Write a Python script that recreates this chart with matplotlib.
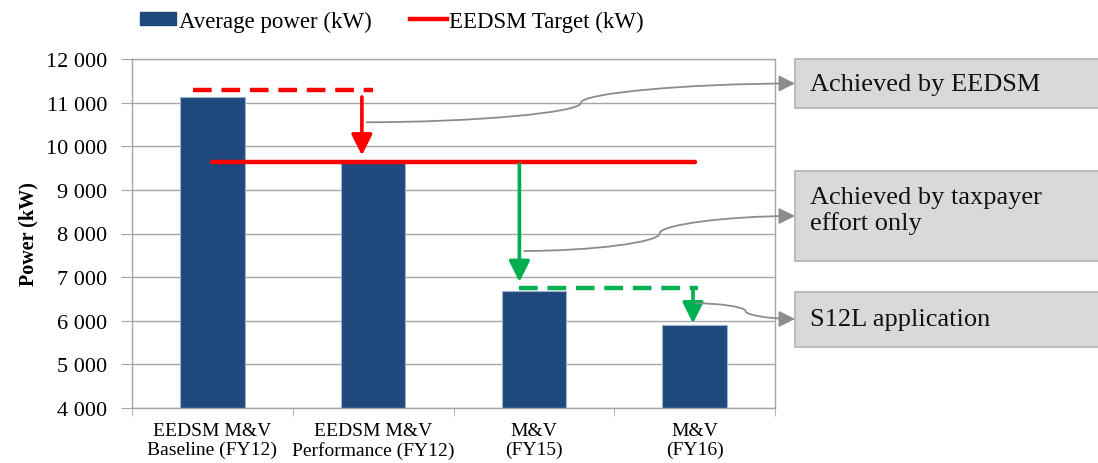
import numpy as np
import matplotlib.pyplot as plt
from matplotlib.patches import Patch, Rectangle, FancyArrowPatch
from matplotlib.lines import Line2D
from matplotlib.path import Path
from matplotlib.ticker import FuncFormatter, MultipleLocator, FixedLocator

plt.rcParams['font.family'] = ['Liberation Serif', 'DejaVu Serif']

# Datos del gráfico
categorias = ["EEDSM M&V\nBaseline (FY12)", "EEDSM M&V\nPerformance (FY12)",
              "M&V\n(FY15)", "M&V\n(FY16)"]
potencia_media = [11130, 9610, 6690, 5900]   # kW
objetivo_eedsm = 9650                          # kW
objetivo_base = 11300                          # línea roja discontinua
nivel_fy15 = 6750                              # línea verde discontinua
etiquetas_cuadros = ["Achieved by EEDSM",
                     "Achieved by taxpayer\neffort only",
                     "S12L application"]

AZUL = '#1f497d'
ROJO = '#ff0000'
VERDE = '#00b050'
GRIS = '#8c8c8c'

W, H = 1098, 464
fig = plt.figure(figsize=(W / 100, H / 100), dpi=100)
ax = fig.add_axes([132 / W, 1 - 409 / H, (775 - 132) / W, (409 - 60) / H])

x = np.arange(len(categorias))
ax.bar(x, potencia_media, width=0.4, color=AZUL, edgecolor='#9db3cf',
       linewidth=0.8, zorder=2)

ax.set_xlim(-0.5, 3.5)
ax.set_ylim(4000, 12000)
ax.yaxis.set_major_locator(MultipleLocator(1000))
ax.yaxis.set_major_formatter(FuncFormatter(lambda v, p: f"{int(v):,}".replace(",", " ")))
ax.grid(axis='y', color='#a6a6a6', linewidth=1.0, zorder=0)
for s in ax.spines.values():
    s.set_color('#a6a6a6')
    s.set_linewidth(1.0)

# etiquetas de categoría centradas, marcas entre categorías
ax.set_xticks(x)
ax.set_xticklabels(categorias, fontsize=14, linespacing=1.15)
ax.tick_params(axis='x', length=0, pad=10)
ax.xaxis.set_minor_locator(FixedLocator(np.arange(-0.5, 4.0, 1.0)))
ax.tick_params(axis='x', which='minor', length=6, color='#a6a6a6', direction='out')
ax.tick_params(axis='y', labelsize=16, length=8, color='#a6a6a6', direction='out', pad=10)
ax.set_ylabel("Power (kW)", fontsize=14.5, fontweight='bold', labelpad=5)

# objetivo EEDSM
ax.plot([x[0], x[3]], [objetivo_eedsm] * 2, color=ROJO, lw=3.2,
        solid_capstyle='round', zorder=3)
# líneas discontinuas de referencia
ax.plot([-0.12, x[1]], [objetivo_base] * 2, color=ROJO, lw=3.2,
        dashes=(4.2, 2.2), zorder=3)
ax.plot([x[2] - 0.09, x[3] + 0.02], [nivel_fy15] * 2, color=VERDE, lw=3.2,
        dashes=(4.2, 2.2), zorder=3)


def flecha(xp, y0, y1, color):
    ax.annotate("", xy=(xp, y1), xytext=(xp, y0),
                arrowprops=dict(arrowstyle='-|>,head_length=0.9,head_width=0.45',
                                color=color, lw=2.6, shrinkA=0, shrinkB=0,
                                mutation_scale=14),
                zorder=4)


flecha(x[1] - 0.07, objetivo_base - 170, objetivo_eedsm + 140, ROJO)
flecha(x[2] - 0.09, objetivo_eedsm - 60, nivel_fy15 + 140, VERDE)
flecha(x[3] - 0.01, nivel_fy15 - 30, potencia_media[3] + 40, VERDE)

# cuadros explicativos a la derecha
cuadros = [(60, 109), (172, 262), (293, 348)]
textos_y = [84.5, 211, 320]
for (top, bot), txt, ty in zip(cuadros, etiquetas_cuadros, textos_y):
    fig.patches.append(Rectangle((795 / W, 1 - bot / H), 330 / W, (bot - top) / H,
                                 transform=fig.transFigure, facecolor='#d9d9d9',
                                 edgecolor='#b3b3b3', linewidth=1.2, zorder=1))
    fig.text(810 / W, 1 - ty / H, txt, fontsize=19, va='center', ha='left',
             linespacing=1.2, color='#111111')


# conectores curvos (tipo "curvedConnector3")
def conector(xd, yd, ex, ey):
    sx, sy = fig.transFigure.inverted().transform(ax.transData.transform((xd, yd)))
    ex, ey = ex / W, 1 - ey / H
    w, h = ex - sx, ey - sy
    xm = sx + w / 2
    verts = [(sx, sy), (sx + w / 4, sy), (xm, sy + h / 4), (xm, sy + h / 2),
             (xm, sy + 3 * h / 4), (xm + w / 4, ey), (ex, ey)]
    codes = [Path.MOVETO] + [Path.CURVE4] * 6
    p = FancyArrowPatch(path=Path(verts, codes), transform=fig.transFigure,
                        arrowstyle='-|>,head_length=0.7,head_width=0.35',
                        mutation_scale=14, color=GRIS, lw=1.3, zorder=5)
    fig.patches.append(p)


conector(x[1] - 0.04, 10550, 795, 84.5)
conector(x[2] - 0.06, 7600, 795, 217)
conector(x[3] + 0.01, 6400, 795, 320)

# leyenda
manejadores = [Patch(facecolor=AZUL, edgecolor=AZUL, label="Average power (kW)"),
               Line2D([], [], color=ROJO, lw=3.2, label="EEDSM Target (kW)")]
fig.legend(handles=manejadores, loc='upper left', bbox_to_anchor=(119 / W, 1.02),
           ncol=2, frameon=False, fontsize=16.5, handlelength=1.6,
           handleheight=0.5, handletextpad=0.1, columnspacing=1.7)

fig.savefig("out.png", dpi=100)
